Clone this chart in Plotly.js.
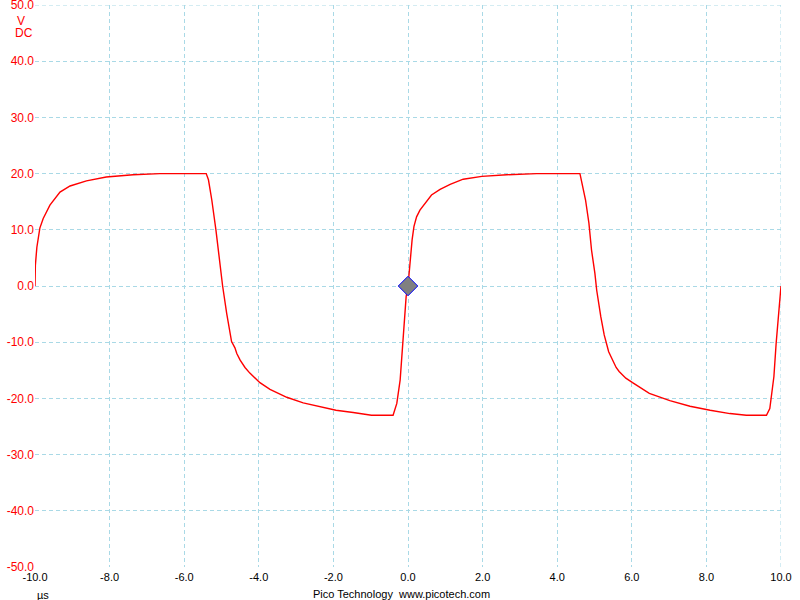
<!DOCTYPE html>
<html>
<head>
<meta charset="utf-8">
<script src="https://cdn.plot.ly/plotly-3.0.1.min.js"></script>
<style>
html,body{margin:0;padding:0;background:#fff;}
#chart{width:800px;height:600px;}
</style>
</head>
<body>
<div id="chart"></div>
<script>
// Time in microseconds
const timeUs = [
  -10.00, -9.99, -9.95, -9.87, -9.78, -9.60, -9.33, -9.06, -8.62, -8.09, -7.37, -6.65, -5.44,
  -5.41, -5.35, -5.26, -5.15, -5.08, -4.97, -4.86, -4.73, -4.64, -4.59, -4.50, -4.37, -4.24, -4.10, -3.97,
  -3.70, -3.25, -2.81, -2.36, -1.93, -1.47, -0.98, -0.40, -0.30, -0.21, -0.17, -0.13, -0.10,
  -0.05, 0.00, 0.03, 0.07, 0.11, 0.16, 0.23, 0.32, 0.46, 0.63, 0.86, 1.13, 1.48, 1.98, 2.65,
  3.45, 4.61, 4.68, 4.76, 4.85, 4.92, 5.01, 5.06, 5.17, 5.26, 5.38, 5.49, 5.58, 5.66, 5.84, 6.02, 6.47,
  7.02, 7.56, 8.10, 8.63, 9.07, 9.61, 9.70, 9.76, 9.81, 9.87, 9.93, 10.00
];
// Channel A voltage (V)
const voltsV = [
  0.0, 3.7, 6.9, 10.3, 12.0, 14.4, 16.7, 17.8, 18.7, 19.4, 19.8, 20.0, 20.0,
  20.0, 18.9, 15.3, 10.0, 5.8, 0.0, -4.9, -9.9, -11.0, -12.0, -13.2, -14.5, -15.5, -16.4, -17.2,
  -18.4, -19.8, -20.8, -21.5, -22.1, -22.5, -23.0, -23.0, -20.9, -16.7, -13.2, -10.2, -7.8,
  -1.9, 0.0, 2.3, 5.5, 8.2, 10.6, 12.3, 13.5, 14.7, 16.2, 17.2, 18.1, 19.0, 19.5, 19.8,
  20.0, 20.0, 18.0, 15.3, 11.2, 6.4, 2.3, -0.8, -5.5, -8.7, -11.7, -13.2, -14.5, -15.2, -16.4, -17.2, -19.1,
  -20.4, -21.4, -22.1, -22.7, -23.0, -23.0, -21.8, -19.1, -16.1, -10.2, -6.0, 0.0
];
// Trigger marker
const triggerT = [0.0];
const triggerV = [0.0];

// Axis ticks
const xTickVals = [-10, -8, -6, -4, -2, 0, 2, 4, 6, 8, 10];
const xTickText = ["-10.0", "-8.0", "-6.0", "-4.0", "-2.0", "0.0", "2.0", "4.0", "6.0", "8.0", "10.0"];
const yTickVals = [-50, -40, -30, -20, -10, 0, 10, 20, 30, 40, 50];
const yTickText = ["-50.0", "-40.0", "-30.0", "-20.0", "-10.0", "0.0", "10.0", "20.0", "30.0", "40.0", "50.0"];

const xRange = [-10, 10];
const yRange = [-50, 50];

const FONT = "Liberation Sans, Arial, sans-serif";
const GRID = "#a9d9e6";
const DASH = "4px,3px";
const gridStyle = {
  showgrid: true, gridcolor: GRID, gridwidth: 1, griddash: DASH,
  zeroline: false, showline: false, ticks: "", ticklabeloverflow: "allow"
};

const traces = [
  {
    x: timeUs, y: voltsV, type: "scatter", mode: "lines",
    line: {color: "#ff0000", width: 1.4},
    hoverinfo: "skip", cliponaxis: false
  },
  {
    x: triggerT, y: triggerV, type: "scatter", mode: "markers",
    marker: {symbol: "diamond", size: 15, color: "#808080", line: {color: "#0000ff", width: 1}},
    hoverinfo: "skip"
  }
];

const layout = {
  width: 800, height: 600,
  margin: {l: 35, r: 19, t: 5, b: 33, pad: 0},
  paper_bgcolor: "#ffffff", plot_bgcolor: "#ffffff",
  showlegend: false,
  font: {family: FONT, size: 11, color: "#000000"},
  xaxis: Object.assign({
    range: xRange, tickmode: "array", tickvals: xTickVals, ticktext: xTickText,
    tickfont: {family: FONT, size: 11, color: "#000000"}, ticklabelstandoff: 2
  }, gridStyle),
  yaxis: Object.assign({
    range: yRange, tickmode: "array", tickvals: yTickVals, ticktext: yTickText,
    tickfont: {family: FONT, size: 12, color: "#ff0000"}, ticklabelstandoff: 0
  }, gridStyle),
  // edge grid lines (top and right) which Plotly omits at the exact range ends
  shapes: [
    {type: "line", xref: "x", yref: "y", x0: xRange[0], x1: xRange[1], y0: yRange[1], y1: yRange[1],
     layer: "below", line: {color: GRID, width: 1, dash: DASH}},
    {type: "line", xref: "x", yref: "y", x0: xRange[1], x1: xRange[1], y0: yRange[0], y1: yRange[1],
     layer: "below", line: {color: GRID, width: 1, dash: DASH}}
  ],
  annotations: [
    {text: "V", xref: "paper", yref: "paper", x: -0.0185, y: 0.9715, xanchor: "center", yanchor: "middle",
     showarrow: false, font: {family: FONT, size: 12, color: "#ff0000"}},
    {text: "DC", xref: "paper", yref: "paper", x: 0.0, y: 0.9495, xanchor: "right", yanchor: "middle",
     showarrow: false, font: {family: FONT, size: 12, color: "#ff0000"}},
    {text: "µs", xref: "paper", yref: "paper", x: 0.0, y: -0.049, xanchor: "left", yanchor: "middle",
     showarrow: false, font: {family: FONT, size: 11, color: "#000000"}},
    {text: "Pico Technology&nbsp;&nbsp;www.picotech.com", xref: "paper", yref: "paper", x: 0.491, y: -0.0485,
     xanchor: "center", yanchor: "middle", showarrow: false, font: {family: FONT, size: 11, color: "#000000"}}
  ]
};

Plotly.newPlot("chart", traces, layout, {displayModeBar: false, staticPlot: true});
</script>
</body>
</html>
